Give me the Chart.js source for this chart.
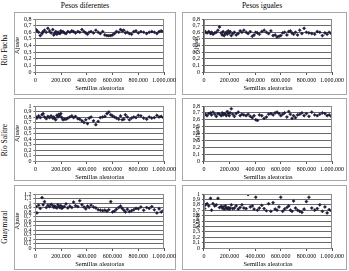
<!DOCTYPE html>
<html><head><meta charset="utf-8">
<script src="https://cdn.jsdelivr.net/npm/chart.js@4.4.1/dist/chart.umd.min.js"></script>
<style>
html,body{margin:0;padding:0;background:#fff;}
body{width:349px;height:271px;position:relative;overflow:hidden;font-family:'Liberation Serif',serif;}
.box{position:absolute;border:1px solid #a8a8a8;box-sizing:border-box;}
.t{position:absolute;font-size:7.5px;line-height:1;color:#000;white-space:nowrap;transform:translate(-50%,-50%);}
.r{transform:translate(-50%,-50%) rotate(-90deg);}
canvas{position:absolute;}
</style></head><body>
<script>
// ---- data ----
const columnTitles = ['Pesos diferentes', 'Pesos iguales'];
const rowTitles = ['Río Fucha', 'Río Salitre', 'Guaymaral'];
const xTitle = 'Semillas aleatorias';
const yTitle = 'Ajuste';
const xTicks = [0, 200000, 400000, 600000, 800000, 1000000];
const yMaxFucha = 0.8, yMaxSalitreDif = 1, yMaxSalitreIg = 0.8, yMaxGuayDif = 1.2, yMaxGuayIg = 1;

const seeds = [
  5000, 12000, 25000, 38000, 52000, 60000, 71000, 85000, 97000, 110000,
  122000, 135000, 143000, 150000, 158000, 167000, 175000, 183000, 190000, 198000,
  205000, 214000, 225000, 238000, 252000, 268000, 283000, 297000, 312000, 330000,
  345000, 362000, 378000, 392000, 405000, 418000, 433000, 452000, 470000, 488000,
  505000, 523000, 540000, 556000, 571000, 586000, 600000, 615000, 630000, 648000,
  662000, 675000, 688000, 700000, 715000, 731000, 748000, 765000, 782000, 800000,
  820000, 842000, 865000, 885000, 905000, 925000, 945000, 962000, 978000, 995000
];
const fuchaDif = [
  0.64,0.62,0.60,0.55,0.58,0.61,0.63,0.60,0.66,0.62,
  0.59,0.64,0.56,0.58,0.61,0.57,0.60,0.59,0.58,0.62,
  0.60,0.61,0.59,0.58,0.61,0.60,0.62,0.61,0.59,0.61,
  0.60,0.64,0.61,0.59,0.57,0.60,0.61,0.59,0.63,0.60,
  0.58,0.61,0.56,0.55,0.55,0.55,0.56,0.58,0.61,0.60,
  0.64,0.62,0.63,0.59,0.60,0.58,0.57,0.61,0.62,0.59,
  0.61,0.60,0.58,0.60,0.61,0.60,0.58,0.61,0.62,0.61
];
const fuchaIg = [
  0.62,0.60,0.59,0.61,0.58,0.60,0.57,0.59,0.60,0.63,
  0.68,0.59,0.56,0.61,0.55,0.58,0.60,0.57,0.62,0.59,
  0.61,0.55,0.58,0.60,0.56,0.58,0.62,0.60,0.63,0.60,
  0.58,0.61,0.54,0.56,0.60,0.59,0.57,0.61,0.63,0.60,
  0.58,0.62,0.55,0.56,0.53,0.54,0.55,0.59,0.60,0.56,
  0.61,0.62,0.59,0.57,0.60,0.56,0.63,0.58,0.66,0.60,
  0.59,0.58,0.57,0.61,0.60,0.55,0.59,0.57,0.60,0.58
];
const salitreDif = [
  0.80,0.78,0.82,0.79,0.84,0.86,0.80,0.77,0.81,0.79,
  0.82,0.78,0.80,0.77,0.75,0.83,0.80,0.85,0.82,0.86,
  0.79,0.75,0.76,0.76,0.78,0.80,0.82,0.79,0.81,0.77,
  0.76,0.73,0.70,0.75,0.68,0.78,0.80,0.73,0.66,0.72,
  0.79,0.80,0.81,0.86,0.89,0.84,0.82,0.80,0.78,0.76,
  0.82,0.75,0.76,0.84,0.80,0.75,0.78,0.80,0.79,0.83,
  0.82,0.78,0.76,0.80,0.78,0.79,0.83,0.80,0.81,0.79
];
const salitreIg = [
  0.67,0.68,0.66,0.69,0.70,0.67,0.71,0.68,0.65,0.69,
  0.68,0.66,0.70,0.67,0.69,0.68,0.66,0.72,0.69,0.66,
  0.70,0.76,0.68,0.65,0.69,0.71,0.66,0.68,0.67,0.66,
  0.68,0.65,0.63,0.66,0.60,0.59,0.67,0.66,0.62,0.64,
  0.68,0.69,0.67,0.70,0.71,0.69,0.66,0.68,0.70,0.64,
  0.72,0.68,0.62,0.66,0.63,0.67,0.68,0.70,0.66,0.69,
  0.65,0.71,0.67,0.66,0.68,0.70,0.69,0.66,0.67,0.65
];
const guayDif = [
  0.92,0.78,0.95,0.88,1.12,0.96,1.03,0.90,0.95,0.92,
  0.97,0.94,0.90,0.93,0.91,0.89,0.96,0.92,0.90,0.94,
  0.88,0.91,0.92,0.98,0.89,0.93,0.90,1.02,0.94,0.92,
  1.05,0.96,0.91,0.87,0.93,0.90,0.95,0.91,0.89,0.85,
  0.84,0.83,0.84,0.82,0.85,1.03,0.80,0.82,0.86,0.90,
  0.93,0.88,0.84,0.80,0.86,0.81,0.83,0.85,0.88,0.87,
  0.91,0.84,0.90,0.88,0.92,0.85,0.78,0.87,0.80,0.83
];
const guayIg = [
  0.73,0.80,0.82,0.78,0.92,0.70,0.82,0.78,0.80,0.92,
  0.75,0.77,0.74,0.76,0.72,0.78,0.74,0.73,0.75,0.72,
  0.74,0.80,0.73,0.74,0.78,0.72,0.75,0.80,0.74,0.73,
  0.99,0.76,0.78,0.72,0.94,0.70,0.74,0.79,0.73,0.69,
  0.82,0.68,0.84,0.72,0.70,0.76,0.94,0.68,0.72,0.75,
  0.78,0.70,0.68,0.87,0.74,0.70,0.68,0.66,0.72,0.86,
  0.94,0.74,0.70,0.73,0.80,0.68,0.76,0.65,0.71,0.69
];

// ---- layout (positions only) ----
const panels = [
  {box:[14,12,176,95],  area:[35,19,164,72],   ytc:16.5, ys:fuchaDif,   ymax:yMaxFucha},
  {box:[182,12,347,95], area:[204,19,332,72],  ytc:196,  ys:fuchaIg,    ymax:yMaxFucha},
  {box:[14,98,176,181], area:[35,106,164,161], ytc:16.5, ys:salitreDif, ymax:yMaxSalitreDif},
  {box:[182,98,347,181],area:[204,106,332,161],ytc:197,  ys:salitreIg,  ymax:yMaxSalitreIg},
  {box:[14,185,176,270],area:[35,194,164,248], ytc:16.5, ys:guayDif,    ymax:yMaxGuayDif},
  {box:[182,185,347,270],area:[204,194,332,248],ytc:197, ys:guayIg,     ymax:yMaxGuayIg}
];

function addText(txt, cx, cy, rot, size) {
  const d = document.createElement('div');
  d.className = 't' + (rot ? ' r' : '');
  d.textContent = txt;
  d.style.left = cx + 'px'; d.style.top = cy + 'px';
  if (size) d.style.fontSize = size + 'px';
  document.body.appendChild(d);
}
addText(columnTitles[0], 85, 5.5, false, 7.5);
addText(columnTitles[1], 262, 5.5, false, 7.5);
addText(rowTitles[0], 5, 50, true, 7.5);
addText(rowTitles[1], 5, 140, true, 7.5);
addText(rowTitles[2], 5, 227, true, 7.5);

const fmtX = v => String(v).replace(/\B(?=(\d{3})+(?!\d))/g, '.');
const fmtY = v => String(Number(v.toFixed(2))).replace('.', ',');
const frame = {id:'frame', afterDraw(c){const a=c.chartArea,x=c.ctx;x.save();x.strokeStyle='#8a8a8a';x.lineWidth=1;
  x.strokeRect(Math.round(a.left)+0.5,Math.round(a.top)+0.5,Math.round(a.right-a.left)-1,Math.round(a.bottom-a.top));x.restore();}};
const FONT = 'Liberation Serif';
const TITLE_LH = 6.5 * 1.2;

panels.forEach(p => {
  const [bl, bt, br, bb] = p.box;
  const b = document.createElement('div');
  b.className = 'box';
  b.style.left = bl + 'px'; b.style.top = bt + 'px';
  b.style.width = (br - bl) + 'px'; b.style.height = (bb - bt) + 'px';
  document.body.appendChild(b);

  const [L, T, R, B] = p.area;
  const cl = p.ytc - TITLE_LH / 2;
  const cr = R + 16, ct = bt, cb = B + 20;
  const cv = document.createElement('canvas');
  cv.width = Math.round(cr - cl); cv.height = Math.round(cb - ct);
  cv.style.left = cl + 'px'; cv.style.top = ct + 'px';
  cv.style.width = cv.width + 'px'; cv.style.height = cv.height + 'px';
  document.body.appendChild(cv);
  const yW = L - cl, xH = B + 20 - B;
  const n = Math.min(seeds.length, p.ys.length);
  const pts = [];
  for (let i = 0; i < n; i++) pts.push({x: seeds[i], y: p.ys[i]});
  new Chart(cv, {
    type: 'scatter',
    data: {datasets: [{data: pts, backgroundColor: '#1c1c3a', borderColor: '#1c1c3a',
      pointStyle: 'rectRot', pointRadius: 1.6, borderWidth: 0.5}]},
    options: {
      responsive: false, animation: false, devicePixelRatio: 1,
      layout: {padding: {left: 0, top: T - ct, right: cr - R, bottom: 0}},
      plugins: {legend: {display: false}, tooltip: {enabled: false}},
      scales: {
        x: {type: 'linear', min: 0, max: 1000000,
          afterBuildTicks: s => { s.ticks = xTicks.map(v => ({value: v})); },
          afterFit: s => { s.height = xH; },
          grid: {display: true, drawOnChartArea: false, drawTicks: true, tickLength: 3, color: '#555'},
          border: {display: true, color: '#555'},
          ticks: {callback: fmtX, font: {family: FONT, size: 6}, color: '#000', padding: 2, maxRotation: 0, autoSkip: false},
          title: {display: true, text: xTitle, font: {family: FONT, size: 6.5}, color: '#000', padding: 0}
        },
        y: {type: 'linear', min: 0, max: p.ymax,
          afterFit: s => { s.width = yW; },
          grid: {color: '#6a6a6a', tickLength: 2},
          border: {display: true, color: '#555'},
          ticks: {stepSize: 0.1, callback: fmtY, font: {family: FONT, size: 6}, color: '#000', padding: 2, autoSkip: false},
          title: {display: true, text: yTitle, font: {family: FONT, size: 6.5}, color: '#000', padding: 0}
        }
      }
    },
    plugins: [frame]
  });
});
</script>
</body></html>
